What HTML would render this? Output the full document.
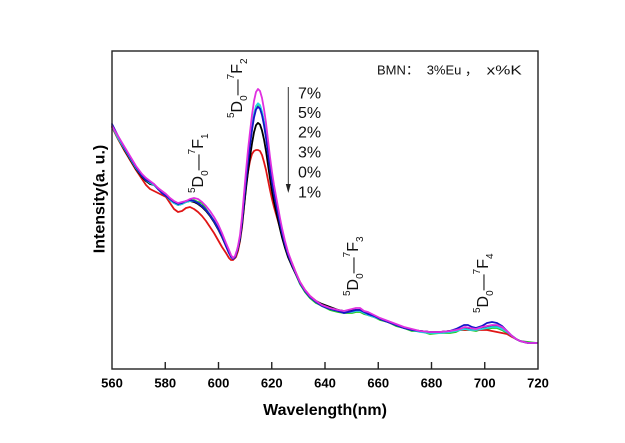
<!DOCTYPE html>
<html>
<head>
<meta charset="utf-8">
<style>
html,body{margin:0;padding:0;background:#fff;}
svg{display:block;}
</style>
</head>
<body>
<svg width="625" height="443" viewBox="0 0 625 443" xmlns="http://www.w3.org/2000/svg" font-family="Liberation Sans, Arial, sans-serif">
<rect x="0" y="0" width="625" height="443" fill="#fff"/>

<!-- curves -->
<g fill="none" stroke-width="1.8" stroke-linejoin="round" stroke-linecap="round">
<!-- green -->
<polyline stroke="#22cc22" points="112,127 118,139 124,149 130,159 136,169 142,177 146,181 150,183 154,185 158,188 162,192 166,195 170,199 174,202 178,204 182,203 186,201 190,201 194,200 198,202 202,203 206,209 210,215 214,221 218,228 222,236 226,245 229,252 231,256 233,258 235,258 237,251.6 238,247.9 240,237.8 242,221.4 244,200.2 246,179.2 248,159.9 250,143.4 252,127.8 254,115 256,106.8 258,104.1 260,106 262,112.5 264,122.6 266,135.6 268,151.3 270,167 272,180.8 274,192.9 276,203 278,213.2 280,223.4 282,232.7 285,244.7 288,254.9 292,265.2 296,274.5 300,284 305,292 310,298 316,303 322,306 330,310 338,312 344,313 348,313 352,313 356,312 360,312 364,314 368,315 374,317 380,320 388,322 396,326 404,328 412,331 420,331 430,334 440,333 450,333 456,332 460,330 465,330 470,330 476,331 482,329 487,329 492,328 497,328 502,330 507,333 512,336 516,339 520,341 528,342 537,343"/>
<!-- red -->
<polyline stroke="#e01515" points="112,127 118,139 124,150 130,160 136,170 142,179 146,185 150,189 154,191 158,193 162,195 166,197 170,203 174,209 178,212 182,211 186,208 190,207 194,209 198,212 202,216 206,221 210,227 214,233 218,240 222,247 226,253 229,258 231,260 233,260 236,257 238,251 240,241 242,227 244,207 246,186 248,172 250,161 252,154 254,151 256,150 258,150 260,151 262,155 264,162 266,170 268,180 270,190 272,199 274,207 276,214 278,221 280,228 282,235 285,244 288,253 292,263 296,273 300,282 305,290 310,296 316,301 322,305 330,308 338,310 344,312 348,312 352,312 356,311 360,311 364,313 368,315 374,317 380,319 388,322 396,325 404,328 412,330 420,331 430,332 440,332 450,331 456,330 460,330 465,330 470,330 476,330 482,330 487,330 492,331 497,332 502,333 507,334 512,337 516,339 520,341 528,343 537,343"/>
<!-- black -->
<polyline stroke="#000" points="112,126 118,138 124,149 130,159 136,169 142,177 146,181 150,184 154,185 158,189 162,193 166,196 170,200 174,203 178,205 182,204 186,202 190,201 194,202 198,204 202,207 206,211 210,216 214,222 218,229 222,237 226,246 229,253 231,256 233,258 235,257.3 237,251.8 238,248.6 240,239.9 242,225.4 244,206.9 246,188.5 248,171.6 250,157.1 252,143.5 254,132.3 256,125.2 258,122.9 260,124.6 262,130.5 264,139.5 266,151 268,164.9 270,178.8 272,191.1 274,201.8 276,210.8 278,219.9 280,228.9 282,237.2 285,247.9 288,257 292,266.2 296,274.6 300,283 305,291 310,297 316,301 322,304 330,307 338,310 344,311 348,311 352,310 356,310 360,310 364,312 368,314 374,316 380,319 388,322 396,325 404,328 412,330 420,331 430,332 440,332 450,331 456,330 460,329 465,328 470,329 476,329 482,328 487,327 492,326 497,326 502,328 507,332 512,336 516,339 520,341 528,343 537,343"/>
<!-- cyan -->
<polyline stroke="#22d8e0" points="112,126 118,138 124,148 130,158 136,168 142,176 146,180 150,183 154,185 158,189 162,193 166,196 170,200 174,203 178,205 182,204 186,202 190,201 194,201 198,203 202,206 206,210 210,215 214,221 218,228 222,236 226,245 229,252 231,256 233,258 235,257.1 237,250.8 238,247.1 240,237 242,220.6 244,199.4 246,178.4 248,159.1 250,142.6 252,127 254,114.2 256,106 258,103.3 260,105.2 262,111.7 264,121.8 266,134.8 268,150.5 270,166.2 272,180 274,192.1 276,202.2 278,212.4 280,222.6 282,231.9 285,243.9 288,254.1 292,264.4 296,273.7 300,283 305,291 310,297 316,302 322,306 330,309 338,311 344,312 348,312 352,312 356,311 360,311 364,313 368,315 374,317 380,319 388,322 396,325 404,328 412,330 420,332 430,333 440,333 450,332 456,331 460,330 465,329 470,330 476,330 482,329 487,328 492,327 497,327 502,329 507,332 512,336 516,339 520,341 528,343 537,343"/>
<!-- blue -->
<polyline stroke="#1414c8" points="112,124 118,136 124,147 130,157 136,167 142,176 146,180 150,182 154,184 158,189 162,193 166,196 170,199 174,202 178,204 182,203 186,201 190,200 194,201 198,203 202,206 206,210 210,215 214,221 218,228 222,236 226,246 229,253 231,257 233,259 235,257.2 237,250.9 238,247.4 240,237.6 242,221.4 244,200.8 246,180.2 248,161.4 250,145.2 252,130 254,117.5 256,109.5 258,106.8 260,108.7 262,115.1 264,125.1 266,137.7 268,153.1 270,168.5 272,182.1 274,193.8 276,203.8 278,213.8 280,223.7 282,232.8 285,244.6 288,254.6 292,264.7 296,273.8 300,283 305,291 310,297 316,302 322,306 330,309 338,311 344,313 348,312 352,311 356,310 360,310 364,312 368,314 374,316 380,319 388,322 396,325 404,328 412,330 420,331 430,332 440,332 450,331 456,329 460,327 464,325 468,325 472,327 476,328 482,326 487,323 492,322 497,323 502,326 507,331 512,336 516,339 520,341 528,343 537,343"/>
<!-- magenta -->
<polyline stroke="#e030e0" points="112,126 118,136 124,146 130,156 136,166 142,174 146,178 150,181 154,184 158,188 162,191 166,194 170,198 174,201 178,203 182,202 186,201 190,199 194,198 198,199 202,202 206,206 210,211 214,217 218,224 222,233 226,243 229,250 231,255 233,258 235,256 237,250 238,246 240,235 242,217 244,194 246,171 248,150 250,132 252,115 254,101 256,92 258,89 260,91 262,98 264,109 266,123 268,140 270,157 272,172 274,185 276,196 278,207 280,218 282,228 285,241 288,252 292,263 296,273 300,282 305,290 310,296 316,301 322,305 330,308 338,310 344,311 348,310 352,309 356,308 360,308 364,311 368,312 374,315 380,318 388,321 396,324 404,327 412,329 420,331 430,332 440,332 450,331 456,330 460,329 465,327 470,328 476,329 482,327 487,326 492,325 497,325 502,327 507,331 512,336 516,339 520,341 528,343 537,343"/>
</g>

<!-- frame -->
<rect x="112" y="51" width="426" height="318" fill="none" stroke="#222" stroke-width="1.4"/>
<!-- ticks -->
<g stroke="#222" stroke-width="1.4">
<line x1="165.25" y1="369" x2="165.25" y2="362"/>
<line x1="218.5" y1="369" x2="218.5" y2="362"/>
<line x1="271.75" y1="369" x2="271.75" y2="362"/>
<line x1="325" y1="369" x2="325" y2="362"/>
<line x1="378.25" y1="369" x2="378.25" y2="362"/>
<line x1="431.5" y1="369" x2="431.5" y2="362"/>
<line x1="484.75" y1="369" x2="484.75" y2="362"/>
</g>
<g font-size="13" font-weight="bold" text-anchor="middle" fill="#000">
<text x="112" y="387.5">560</text>
<text x="165.25" y="387.5">580</text>
<text x="218.5" y="387.5">600</text>
<text x="271.75" y="387.5">620</text>
<text x="325" y="387.5">640</text>
<text x="378.25" y="387.5">660</text>
<text x="431.5" y="387.5">680</text>
<text x="484.75" y="387.5">700</text>
<text x="538" y="387.5">720</text>
</g>
<text x="325" y="415" font-size="16" font-weight="bold" text-anchor="middle">Wavelength(nm)</text>
<text transform="translate(104.5,199) rotate(-90)" font-size="16" font-weight="bold" text-anchor="middle">Intensity(a. u.)</text>

<!-- title -->
<g font-size="13" fill="#111">
<text x="377" y="74.3">BMN</text>
<text x="406" y="74.3" font-family="Liberation Sans, Noto Sans CJK SC, sans-serif">：</text>
<text x="426.7" y="74.3">3%Eu</text>
<text x="465" y="74.3" font-family="Liberation Sans, Noto Sans CJK SC, sans-serif">，</text>
<text x="486.7" y="74.3" textLength="35" lengthAdjust="spacingAndGlyphs">x%K</text>
</g>

<!-- legend list -->
<g font-size="16" fill="#111">
<text x="298" y="98.3">7%</text>
<text x="298" y="117.8">5%</text>
<text x="298" y="137.6">2%</text>
<text x="298" y="157.5">3%</text>
<text x="298" y="177.4">0%</text>
<text x="298" y="197.3">1%</text>
</g>
<line x1="288.3" y1="87" x2="288.3" y2="186" stroke="#333" stroke-width="1"/>
<polygon points="285.8,184 290.8,184 288.3,193" fill="#222"/>

<!-- transition labels -->
<g fill="#111">
<text transform="translate(203,193) rotate(-90)" font-size="16"><tspan font-size="10" dy="-8">5</tspan><tspan dy="8">D</tspan><tspan font-size="10" dy="5">0</tspan><tspan dy="-5">—</tspan><tspan font-size="10" dy="-8">7</tspan><tspan dy="8">F</tspan><tspan font-size="10" dy="5">1</tspan></text>
<text transform="translate(242,118) rotate(-90)" font-size="16"><tspan font-size="10" dy="-8">5</tspan><tspan dy="8">D</tspan><tspan font-size="10" dy="5">0</tspan><tspan dy="-5">—</tspan><tspan font-size="10" dy="-8">7</tspan><tspan dy="8">F</tspan><tspan font-size="10" dy="5">2</tspan></text>
<text transform="translate(358,296) rotate(-90)" font-size="16"><tspan font-size="10" dy="-8">5</tspan><tspan dy="8">D</tspan><tspan font-size="10" dy="5">0</tspan><tspan dy="-5">—</tspan><tspan font-size="10" dy="-8">7</tspan><tspan dy="8">F</tspan><tspan font-size="10" dy="5">3</tspan></text>
<text transform="translate(488,313) rotate(-90)" font-size="16"><tspan font-size="10" dy="-8">5</tspan><tspan dy="8">D</tspan><tspan font-size="10" dy="5">0</tspan><tspan dy="-5">—</tspan><tspan font-size="10" dy="-8">7</tspan><tspan dy="8">F</tspan><tspan font-size="10" dy="5">4</tspan></text>
</g>
</svg>
</body>
</html>
